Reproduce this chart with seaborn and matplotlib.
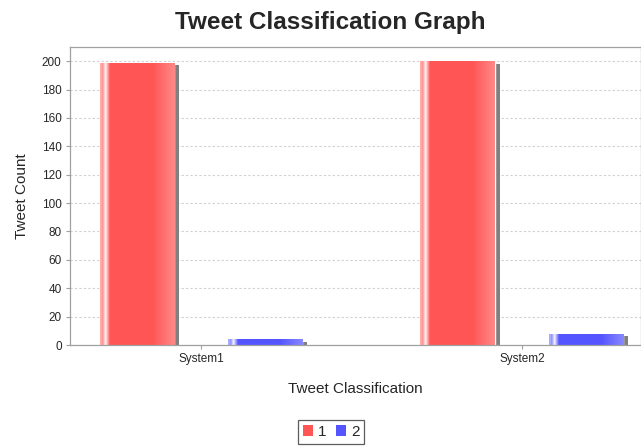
import numpy as np
import pandas as pd
import matplotlib
matplotlib.use("Agg")
import matplotlib.pyplot as plt
import seaborn as sns
from matplotlib.patches import Rectangle
from matplotlib.colors import to_rgb

categories = ["System1", "System2"]
series_labels = ["1", "2"]
values_1 = [199, 200]
values_2 = [4, 8]
colors = ["#FF5555", "#5555FF"]

df = pd.DataFrame({
    "cat": categories * 2,
    "series": [series_labels[0]] * 2 + [series_labels[1]] * 2,
    "val": values_1 + values_2,
})

sns.set_style("white")
plt.rcParams["font.family"] = ["Liberation Sans", "DejaVu Sans"]

fig = plt.figure(figsize=(6.41, 4.46), dpi=100)
ax = fig.add_axes([70/641, 1-345/446, 1-70/641, (345-47)/446])

sns.barplot(data=df, x="cat", y="val", hue="series", palette=colors,
            width=0.8, gap=0.42, ax=ax, legend=False, saturation=1)

ax.set_ylim(0, 210)
ax.set_xlim(-0.408, 1.371)
ax.set_yticks(range(0, 201, 20))
ax.yaxis.grid(True, linestyle=(0, (2, 2)), color="#d0d0d0", linewidth=0.8)
ax.set_axisbelow(True)
for s in ax.spines.values():
    s.set_color("#a0a0a0")
    s.set_linewidth(0.9)

# shadows and gradient for bars
patches = list(ax.patches)
dx = 5/321
dy = 2.5/1.42
for p in patches:
    x0, y0 = p.get_x(), p.get_y()
    w, h = p.get_width(), p.get_height()
    if h <= 0:
        continue
    sh = Rectangle((x0 + dx, y0 - dy), w, h, facecolor="#808080",
                   edgecolor="none", zorder=1.5, clip_on=True)
    ax.add_patch(sh)
    base = np.array(to_rgb(p.get_facecolor()))
    n = 100
    t = np.linspace(0, 1, n)
    grad = np.zeros((1, n, 3))
    for i, tt in enumerate(t):
        if tt < 0.03:
            c = base + (1 - base) * 0.5
        elif tt < 0.13:
            c = base + (1 - base) * (1 - abs(tt - 0.07) / 0.06) * 0.95
        elif tt < 0.7:
            c = base
        else:
            c = base + (1 - base) * (tt - 0.7) / 0.3 * 0.3
        grad[0, i] = np.clip(c, 0, 1)
    p.set_zorder(2)
    im = ax.imshow(grad, extent=(x0, x0 + w, y0, y0 + h), aspect="auto",
                   zorder=2.1, interpolation="bilinear")
    im.set_clip_path(p)

ax.set_xlim(-0.408, 1.371)
ax.set_ylim(0, 210)

ax.tick_params(axis="both", labelsize=8.5, length=3, color="#a0a0a0", pad=3)
ax.tick_params(axis="y", left=True)
ax.tick_params(axis="x", bottom=True)
ax.set_xlabel("Tweet Classification", fontsize=11, labelpad=12)
ax.set_ylabel("Tweet Count", fontsize=11, labelpad=9)

fig.suptitle("Tweet Classification Graph", fontsize=17.5, fontweight="bold",
             y=1-22/446, va="center", x=330/641)

handles = [Rectangle((0, 0), 1, 1, facecolor=c, edgecolor="none") for c in colors]
leg = fig.legend(handles, series_labels, loc="center", ncol=2,
                 bbox_to_anchor=(331/641, 1-432/446), frameon=True,
                 fontsize=11, handlelength=0.7, handleheight=0.7,
                 handletextpad=0.3, columnspacing=0.6, borderpad=0.3,
                 fancybox=False, edgecolor="#333333")
leg.get_frame().set_linewidth(0.9)

fig.savefig("out.png", dpi=100)
